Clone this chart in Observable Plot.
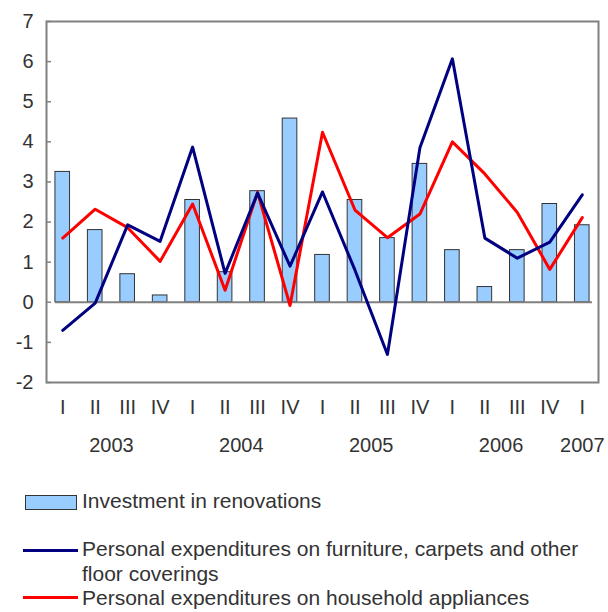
<!DOCTYPE html>
<html>
<head>
<meta charset="utf-8">
<script src="https://cdn.jsdelivr.net/npm/d3@7"></script>
<script src="https://cdn.jsdelivr.net/npm/@observablehq/plot@0.6"></script>
<style>
  html, body { margin: 0; padding: 0; background: #fff; }
  body { width: 608px; font-family: "Liberation Sans", Arial, sans-serif; color: #333; }
  #legend { position: relative; height: 142px; font-size: 21px; }
  .lbl { position: absolute; left: 82px; white-space: nowrap; line-height: 29px; }
  .swatch { position: absolute; left: 25px; }
</style>
</head>
<body>
<div id="chart"></div>
<div id="legend"></div>
<script>
const quarters = ["I","II","III","IV","I","II","III","IV","I","II","III","IV","I","II","III","IV","I"];
const years    = [2003,2003,2003,2003,2004,2004,2004,2004,2005,2005,2005,2005,2006,2006,2006,2006,2007];
const renovations = [3.25,1.8,0.7,0.17,2.55,0.75,2.77,4.58,1.18,2.55,1.6,3.45,1.3,0.38,1.3,2.45,1.92];
const furniture   = [-0.7,-0.02,1.93,1.52,3.87,0.72,2.72,0.9,2.75,0.8,-1.3,3.85,6.07,1.6,1.1,1.5,2.68];
const appliances  = [1.6,2.32,1.86,1.02,2.45,0.3,2.74,-0.08,4.24,2.3,1.61,2.2,4.0,3.2,2.24,0.82,2.11];
const yTicks = [-2,-1,0,1,2,3,4,5,6,7];
const seriesNames = [
  "Investment in renovations",
  "Personal expenditures on furniture, carpets and other floor coverings",
  "Personal expenditures on household appliances"
];
const colors = {bar: "#99ccff", furniture: "#000080", appliances: "#ff0000"};

const rows = quarters.map((q, i) => ({i, q, year: years[i], ren: renovations[i], fur: furniture[i], app: appliances[i]}));
const yearLabels = d3.groups(rows, d => d.year).map(([year, rs]) => ({year, i: d3.mean(rs, d => d.i)}));

const chart = Plot.plot({
  width: 608,
  height: 470,
  marginLeft: 46,
  marginRight: 10,
  marginTop: 21,
  marginBottom: 88,
  style: {fontFamily: "Liberation Sans, Arial, sans-serif", fontSize: "20px", color: "#333", background: "#fff", overflow: "visible"},
  x: {type: "linear", domain: [-0.5, quarters.length - 0.5], axis: null},
  y: {domain: [-2, 7]},
  marks: [
    Plot.axisY(yTicks, {tickSize: -5, tickPadding: 18, tickFormat: d => String(d), fontSize: 20, stroke: "#808080", fill: "#333", strokeWidth: 1.5}),
    Plot.rectY(rows, {x1: d => d.i - 0.225, x2: d => d.i + 0.225, y: "ren", fill: colors.bar, stroke: "#333", strokeWidth: 1}),
    Plot.ruleY([0], {stroke: "#808080", strokeWidth: 2, insetLeft: 9, insetRight: 6}),
    Plot.line(rows, {x: "i", y: "app", stroke: colors.appliances, strokeWidth: 3}),
    Plot.line(rows, {x: "i", y: "fur", stroke: colors.furniture, strokeWidth: 3}),
    Plot.frame({stroke: "#808080", strokeWidth: 2}),
    Plot.text(rows, {x: "i", text: "q", frameAnchor: "bottom", dy: 25, lineAnchor: "middle", fill: "#333", fontSize: 20}),
    Plot.text(yearLabels, {x: "i", text: d => String(d.year), frameAnchor: "bottom", dy: 63, lineAnchor: "middle", fill: "#333", fontSize: 20, letterSpacing: -0.5})
  ]
});
document.getElementById("chart").appendChild(chart);

// Legend
const legend = document.getElementById("legend");
function add(html) { const d = document.createElement("div"); d.innerHTML = html; legend.appendChild(d.firstElementChild); }
add(`<div class="swatch" style="top:25px;width:50px;height:13px;background:${colors.bar};border:1px solid #333;"></div>`);
add(`<div class="lbl" style="top:16px;">${seriesNames[0]}</div>`);
add(`<div class="swatch" style="top:79px;width:55px;height:3px;left:23px;background:${colors.furniture};"></div>`);
add(`<div class="lbl" style="top:66px;width:505px;white-space:normal;line-height:25px;">${seriesNames[1]}</div>`);
add(`<div class="swatch" style="top:126px;width:55px;height:3px;left:23px;background:${colors.appliances};"></div>`);
add(`<div class="lbl" style="top:117px;line-height:22px;">${seriesNames[2]}</div>`);
</script>
</body>
</html>
